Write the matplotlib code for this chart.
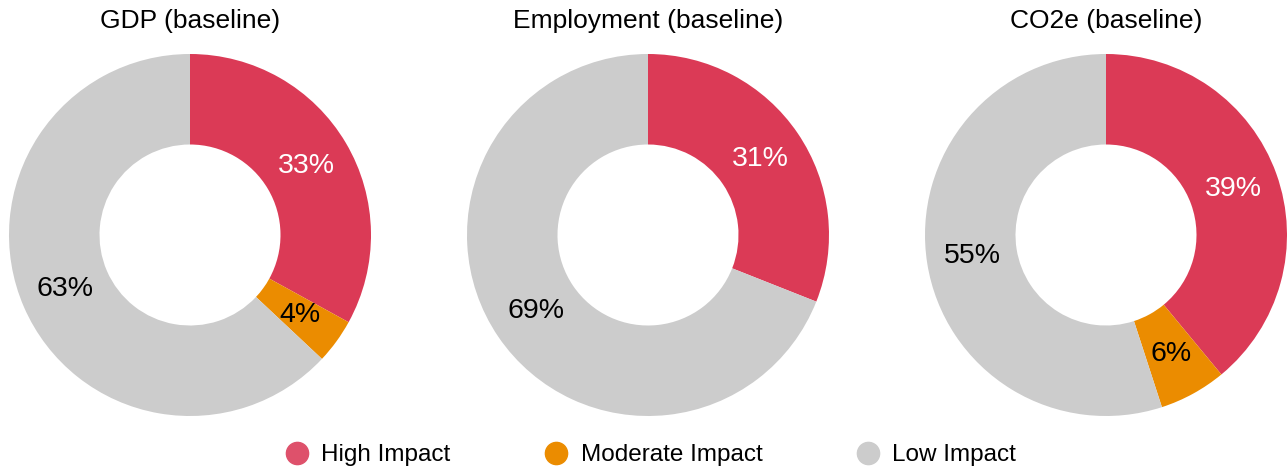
import matplotlib.pyplot as plt
from matplotlib.lines import Line2D

plt.rcParams['font.family'] = ['Liberation Sans', 'DejaVu Sans']

# ==========================
# DATA
# ==========================

titles = ["GDP (baseline)", "Employment (baseline)", "CO2e (baseline)"]
categories = ["High Impact", "Moderate Impact", "Low Impact"]

gdp_share = [33, 4, 63]
employment_share = [31, 0, 69]
co2e_share = [39, 6, 55]

colors = ["#DB3A56", "#EB8C00", "#CCCCCC"]
legend_colors = ["#DE516B", "#EB8C00", "#CCCCCC"]
label_colors = ["white", "black", "black"]

# ==========================
# FIGURE
# ==========================

W, H = 1287, 471
fig = plt.figure(figsize=(W / 100, H / 100), dpi=100)

centers_x = [190, 648, 1106]
center_y = 235
radius_px = 181

for cx, title, share in zip(centers_x, titles, [gdp_share, employment_share, co2e_share]):

    ax = fig.add_axes([
        (cx - radius_px) / W,
        (H - center_y - radius_px) / H,
        2 * radius_px / W,
        2 * radius_px / H
    ])

    wedges, texts, autotexts = ax.pie(
        share,
        colors=colors,
        startangle=90,
        counterclock=False,
        radius=1,
        autopct="%.0f%%",
        pctdistance=0.75,
        wedgeprops=dict(width=0.5, linewidth=0),
        textprops=dict(fontsize=20.5)
    )

    for t, value, c in zip(autotexts, share, label_colors):
        t.set_color(c)
        if value == 0:
            t.set_visible(False)

    ax.set_xlim(-1, 1)
    ax.set_ylim(-1, 1)
    ax.set_aspect("equal")

    fig.text(cx / W, 1 - 21 / H, title, ha="center", va="center", fontsize=19)

# ==========================
# LEGEND
# ==========================

handles = [
    Line2D([0], [0], marker="o", linestyle="", markersize=16,
           markerfacecolor=c, markeredgecolor=c)
    for c in legend_colors
]

fig.legend(
    handles,
    categories,
    loc="center",
    bbox_to_anchor=(0.5055, 1 - 455 / H),
    ncol=3,
    frameon=False,
    fontsize=17.5,
    handletextpad=0.5,
    columnspacing=3.85,
    handlelength=1.0
)

fig.savefig("out.png", dpi=100)
